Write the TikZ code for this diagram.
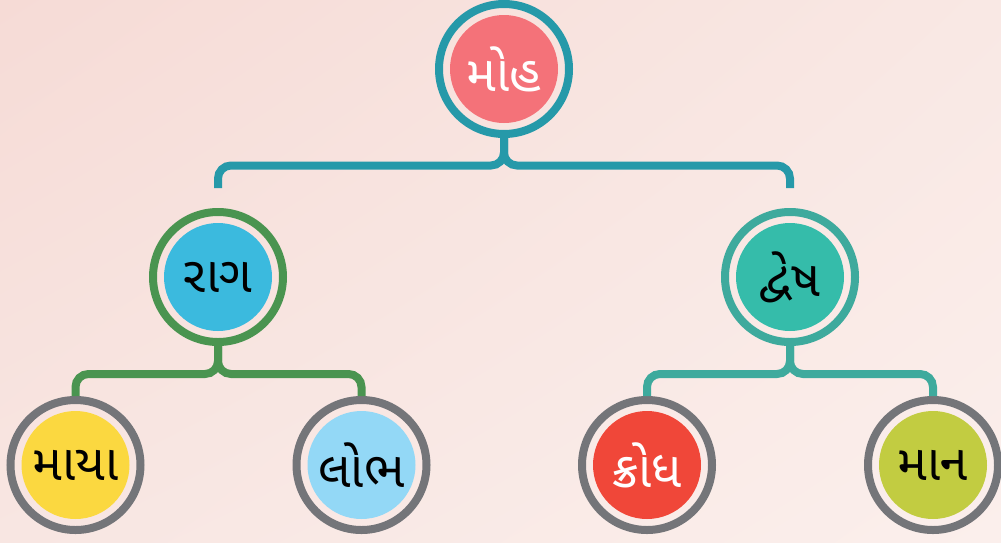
\documentclass[tikz,border=0pt]{standalone}
\usepackage{fontspec}
\usetikzlibrary{shadings}
\newfontfamily\guj[Script=Gujarati]{Noto Sans Gujarati UI}
\definecolor{bgA}{HTML}{F6DBD6}
\definecolor{bgB}{HTML}{FBEFEC}
\definecolor{bgC}{HTML}{F9E8E4}
\definecolor{bgD}{HTML}{F8E6E2}
\definecolor{topring}{HTML}{2699A9}
\definecolor{topfill}{HTML}{F47279}
\definecolor{raagring}{HTML}{4A9450}
\definecolor{raagfill}{HTML}{3BBADE}
\definecolor{dveshring}{HTML}{3EAA9D}
\definecolor{dveshfill}{HTML}{35BCAA}
\definecolor{greyring}{HTML}{747579}
\definecolor{mayafill}{HTML}{FBD840}
\definecolor{lobhfill}{HTML}{93D8F6}
\definecolor{krodhfill}{HTML}{F04739}
\definecolor{maanfill}{HTML}{C2CC41}
\begin{document}
\begin{tikzpicture}[x=1pt,y=-1pt,
  ring/.style={circle, draw=#1, line width=8pt, minimum size=130pt, inner sep=0pt},
  disc/.style={circle, fill=#1, minimum size=108pt, inner sep=0pt,
    font=\guj\fontsize{50}{60}\selectfont},
  conn/.style={draw=#1, line width=8pt, rounded corners=13pt}]
\useasboundingbox (0,0) rectangle (1001,542);
\shade[upper left=bgA, upper right=bgC, lower left=bgD, lower right=bgB] (0,0) rectangle (1001,542);

% level 1
\node[ring=topring] (mohR) at (504,69) {};
\node[disc=topfill, text=white] (moh) at (mohR) {મોહ};

% level 2
\node[ring=raagring] (raagR) at (218,277) {};
\node[disc=raagfill, text=black] (raag) at (raagR) {રાગ};
\node[ring=dveshring] (dveshR) at (790,277) {};
\node[disc=dveshfill, text=black] (dvesh) at (dveshR) {દ્વેષ};

% level 3
\node[ring=greyring] (mayaR) at (75.5,465) {};
\node[disc=mayafill, text=black] (maya) at (mayaR) {માયા};
\node[ring=greyring] (lobhR) at (361.5,465) {};
\node[disc=lobhfill, text=black] (lobh) at (lobhR) {લોભ};
\node[ring=greyring] (krodhR) at (647,465) {};
\node[disc=krodhfill, text=white] (krodh) at (krodhR) {ક્રોધ};
\node[ring=greyring] (maanR) at (933,465) {};
\node[disc=maanfill, text=black] (maan) at (maanR) {માન};

% connectors
\coordinate (j1) at (504,165.5);
\coordinate (e1) at (218,188);
\coordinate (e2) at (790,188);
\draw[conn=topring] (mohR.south) -- (j1) -| (e1);
\draw[conn=topring] (mohR.south) -- (j1) -| (e2);

\coordinate (j2) at (218,374);
\draw[conn=raagring] (raagR.south) -- (j2) -| (mayaR.north);
\draw[conn=raagring] (raagR.south) -- (j2) -| (lobhR.north);

\coordinate (j3) at (790,374);
\draw[conn=dveshring] (dveshR.south) -- (j3) -| (krodhR.north);
\draw[conn=dveshring] (dveshR.south) -- (j3) -| (maanR.north);
\end{tikzpicture}
\end{document}
